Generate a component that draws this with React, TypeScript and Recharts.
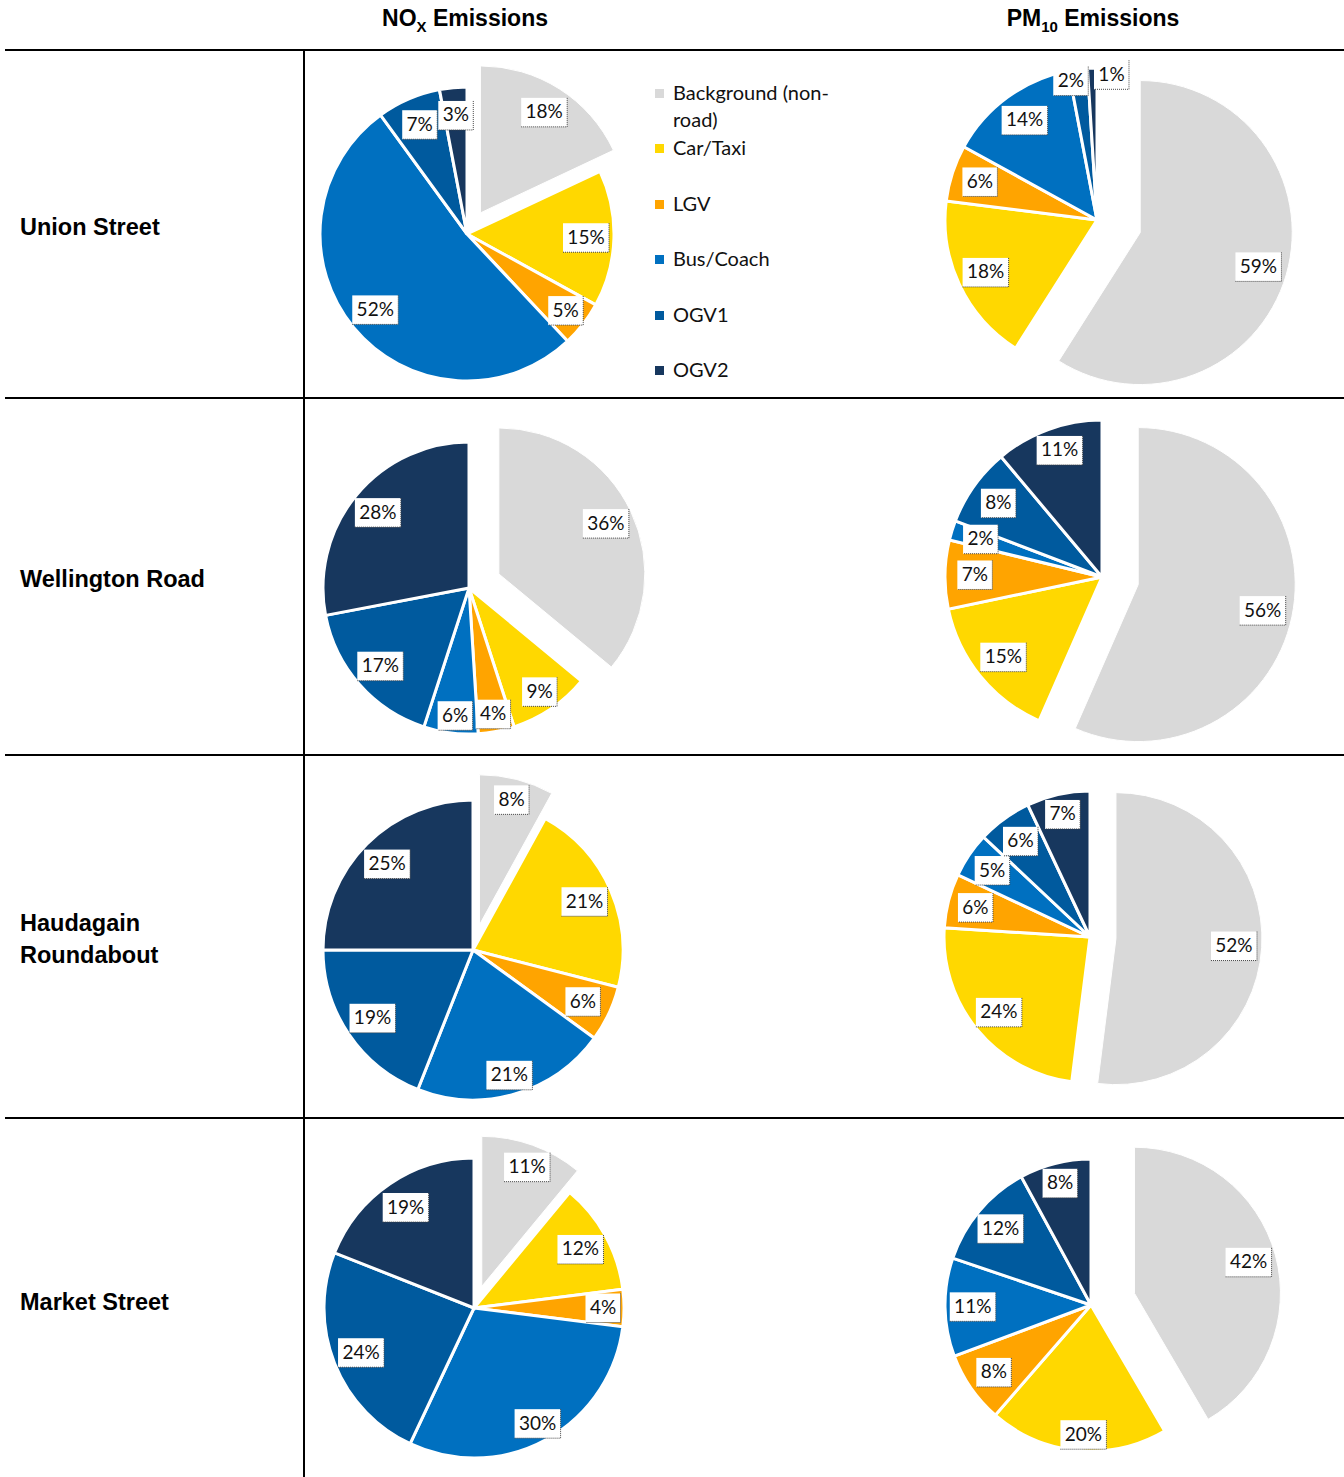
import React from "react";
import { PieChart, Pie, Cell } from "recharts";

// source categories, in drawing order (clockwise from 12 o'clock)
const categories = ["Background (non-road)", "Car/Taxi", "LGV", "Bus/Coach", "OGV1", "OGV2"];
const legendLabels = ["Background (non-\nroad)", "Car/Taxi", "LGV", "Bus/Coach", "OGV1", "OGV2"];
const sites = ["Union Street", "Wellington Road", "Haudagain\nRoundabout", "Market Street"];

// % share of emissions per source
const noxUnion = [18, 15, 5, 52, 7, 3];
const noxWellington = [36, 9, 4, 6, 17, 28];
const noxHaudagain = [8, 21, 6, 21, 19, 25];
const noxMarket = [11, 12, 4, 30, 24, 19];

const pm10Union = [59, 18, 6, 14, 2, 1];
const pm10Wellington = [56, 15, 7, 2, 8, 11];
const pm10Haudagain = [52, 24, 6, 5, 6, 7];
const pm10Market = [42, 20, 8, 11, 12, 8];

const colors = ["#D9D9D9", "#FFD800", "#FFA400", "#0070C0", "#005A9E", "#17375E"];

const FONT_HEAD = "'Liberation Sans', Arial, sans-serif";
const FONT_BODY = "Lato, 'Open Sans', sans-serif";

// pie placement (page coords), radius, explode distance of the background slice,
// and label tweaks [angle shift in deg, radius factor] where Excel's best-fit moved them
const pies = [
  { values: noxUnion, x: 467, y: 234, r: 147, explode: 25, nudge: { 2: [0, 0.85] } },
  { values: pm10Union, x: 1097, y: 220, r: 152, explode: 45, nudge: { 4: [-3.5, 0.93], 5: [7.5, 0.96] } },
  { values: noxWellington, x: 469, y: 588, r: 146, explode: 33, nudge: { 1: [0, 0.86], 2: [0, 0.88], 3: [-1, 0.88] } },
  { values: pm10Wellington, x: 1102, y: 577, r: 157, explode: 37, nudge: { 5: [1.5, 0.85] } },
  { values: noxHaudagain, x: 473, y: 950, r: 150, explode: 26, nudge: { 0: [0, 0.86], 3: [0, 0.87] } },
  { values: pm10Haudagain, x: 1090, y: 937, r: 146, explode: 26, nudge: { 5: [0, 0.86] } },
  { values: noxMarket, x: 474, y: 1308, r: 150, explode: 23, nudge: { 0: [1, 0.85], 2: [0, 0.86], 3: [0, 0.88] } },
  { values: pm10Market, x: 1091, y: 1305, r: 146, explode: 45, nudge: { 1: [-2, 0.89], 5: [0, 0.86] } },
];

const rowLines = [50, 398, 755, 1118];
const rowLabelY = [227, 579, 939, 1302];

const BOX = 220;
const RAD = Math.PI / 180;

function makeLabel(nudge: any, onlyFirst: boolean) {
  return (p: any) => {
    if (onlyFirst ? p.index !== 0 : p.index === 0) return null;
    const adj = (nudge && nudge[p.index]) || [0, 0.81];
    const cw = 90 - p.midAngle + adj[0];
    const R = p.outerRadius * adj[1];
    const x = p.cx + R * Math.sin(cw * RAD);
    const y = p.cy - R * Math.cos(cw * RAD);
    const text = `${p.value}%`;
    const w = text.length * 11 + 13;
    const h = 29;
    return (
      <g key={`lbl-${p.index}`}>
        <rect x={x - w / 2} y={y - h / 2} width={w} height={h} fill="#fff" />
        <polyline
          points={`${x + w / 2},${y - h / 2} ${x + w / 2},${y + h / 2} ${x - w / 2},${y + h / 2}`}
          fill="none"
          stroke="#444"
          strokeWidth={1}
          strokeDasharray="1 1"
        />
        <text x={x} y={y + 6} textAnchor="middle" fontSize={19} fontFamily={FONT_BODY} fill="#111">
          {text}
        </text>
      </g>
    );
  };
}

function EmissionPie({ values, r, explode, nudge }: any) {
  const data = categories.map((name, i) => ({ name, value: values[i] }));
  const total = values.reduce((a: number, b: number) => a + b, 0);
  const mid = (values[0] / total) * 180; // clockwise from top
  const dx = explode * Math.sin(mid * RAD);
  const dy = -explode * Math.cos(mid * RAD);
  return (
    <PieChart width={BOX * 2} height={BOX * 2} margin={{ top: 0, right: 0, bottom: 0, left: 0 }}>
      <Pie
        data={data}
        dataKey="value"
        cx={BOX}
        cy={BOX}
        outerRadius={r}
        startAngle={90}
        endAngle={-270}
        stroke="#fff"
        strokeWidth={3}
        labelLine={false}
        label={makeLabel(nudge, false)}
        isAnimationActive={false}
      >
        {data.map((d, i) => (
          <Cell key={d.name} fill={i === 0 ? "none" : colors[i]} stroke={i === 0 ? "none" : "#fff"} />
        ))}
      </Pie>
      <Pie
        data={data}
        dataKey="value"
        cx={BOX + dx}
        cy={BOX + dy}
        outerRadius={r}
        startAngle={90}
        endAngle={-270}
        stroke="none"
        labelLine={false}
        label={makeLabel(nudge, true)}
        isAnimationActive={false}
      >
        {data.map((d, i) => (
          <Cell key={d.name} fill={i === 0 ? colors[0] : "none"} stroke={i === 0 ? "#fff" : "none"} />
        ))}
      </Pie>
    </PieChart>
  );
}

export default function App() {
  return (
    <div style={{ position: "absolute", left: 0, top: 0, width: 1344, height: 1477, background: "#fff" }}>
      {/* pies */}
      {pies.map((p, i) => (
        <div key={i} style={{ position: "absolute", left: p.x - BOX, top: p.y - BOX }}>
          <EmissionPie values={p.values} r={p.r} explode={p.explode} nudge={p.nudge} />
        </div>
      ))}

      {/* column headers */}
      <div style={{ position: "absolute", left: 265, width: 400, top: 5, textAlign: "center", fontFamily: FONT_HEAD, fontWeight: 700, fontSize: 23 }}>
        NO<sub style={{ fontSize: 15 }}>X</sub> Emissions
      </div>
      <div style={{ position: "absolute", left: 893, width: 400, top: 5, textAlign: "center", fontFamily: FONT_HEAD, fontWeight: 700, fontSize: 23 }}>
        PM<sub style={{ fontSize: 15 }}>10</sub> Emissions
      </div>

      {/* table rules */}
      {rowLines.map((y) => (
        <div key={y} style={{ position: "absolute", left: 5, top: y - 1, width: 1339, height: 2, background: "#000" }} />
      ))}
      <div style={{ position: "absolute", left: 303, top: 49, width: 2, height: 1428, background: "#000" }} />

      {/* row labels */}
      {sites.map((s, i) => {
        const lines = s.split("\n");
        return (
          <div
            key={s}
            style={{
              position: "absolute",
              left: 20,
              top: rowLabelY[i] - (lines.length * 32) / 2,
              fontFamily: FONT_HEAD,
              fontWeight: 700,
              fontSize: 23.5,
              lineHeight: "32px",
              whiteSpace: "pre",
            }}
          >
            {s}
          </div>
        );
      })}

      {/* legend */}
      <div style={{ position: "absolute", left: 655, top: 79, fontFamily: FONT_BODY, fontSize: 20, color: "#111" }}>
        {legendLabels.map((l, i) => (
          <div key={l} style={{ display: "flex", alignItems: "flex-start", height: i === 0 ? 55 : 55.5, lineHeight: "27px" }}>
            <span style={{ display: "inline-block", width: 9, height: 9, background: colors[i], marginTop: 10, marginRight: 9 }} />
            <span style={{ whiteSpace: "pre" }}>{l}</span>
          </div>
        ))}
      </div>
    </div>
  );
}
